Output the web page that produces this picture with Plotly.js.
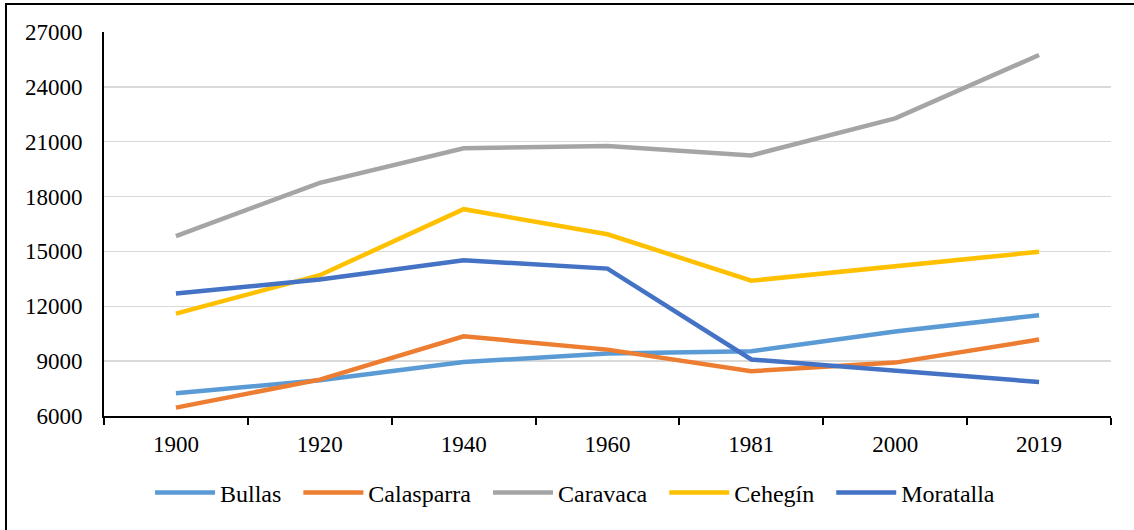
<!DOCTYPE html>
<html>
<head>
<meta charset="utf-8">
<script src="https://cdn.plot.ly/plotly-3.0.1.min.js"></script>
<style>
  html, body { margin: 0; padding: 0; background: #fff; }
  #chart { width: 1134px; height: 530px; }
  #frame { position: absolute; left: 5px; top: 3px; right: 0; bottom: 0;
           border-left: 2px solid #000; border-top: 2px solid #000; pointer-events: none; }
</style>
</head>
<body>
<div id="chart"></div>
<div id="frame"></div>
<script>
const years = ["1900", "1920", "1940", "1960", "1981", "2000", "2019"];
const bullas     = [7250, 7950, 8950, 9420, 9540, 10620, 11510];
const calasparra = [6460, 7990, 10360, 9630, 8450, 8920, 10180];
const caravaca   = [15840, 18750, 20640, 20760, 20250, 22280, 25740];
const cehegin    = [11600, 13700, 17310, 15940, 13400, 14160, 14980];
const moratalla  = [12700, 13460, 14520, 14060, 9090, 8460, 7860];

const names  = ["Bullas", "Calasparra", "Caravaca", "Cehegín", "Moratalla"];
const series = [bullas, calasparra, caravaca, cehegin, moratalla];
const colors = ["#5B9BD5", "#ED7D31", "#A5A5A5", "#FFC000", "#4472C4"];

const fam = "Liberation Serif";
const tickFont = { family: fam, size: 23, color: "#000" };
const legendFont = { family: fam, size: 24, color: "#000" };

const traces = series.map((s, i) => ({
  x: years, y: s, name: names[i] + "\u00a0\u00a0", type: "scatter", mode: "lines",
  line: { color: colors[i], width: 4.5 }
}));

const boundaries = years.map((_, i) => i - 0.5).concat([years.length - 0.5]);

const layout = {
  width: 1134, height: 530,
  margin: { l: 104, r: 23, t: 32, b: 114 },
  paper_bgcolor: "#fff", plot_bgcolor: "#fff",
  font: tickFont,
  showlegend: true,
  legend: { orientation: "h", x: 0.0457, xanchor: "left", y: -0.2, yanchor: "middle",
            font: legendFont, itemwidth: 60, traceorder: "normal" },
  xaxis: {
    type: "category", categoryarray: years, range: [-0.5, 6.5],
    showline: true, linecolor: "#000", linewidth: 2,
    ticks: "outside", ticklen: 7, tickwidth: 2, tickcolor: "#000",
    tickson: "boundaries", showgrid: false, zeroline: false,
    tickfont: tickFont, ticklabelstandoff: 6
  },
  xaxis2: {
    overlaying: "x", anchor: "y", range: [-0.5, 6.5], type: "linear",
    tickmode: "array", tickvals: boundaries, ticks: "inside", ticklen: 7, tickwidth: 2,
    tickcolor: "#000", showticklabels: false, showgrid: false, zeroline: false, showline: false
  },
  yaxis: {
    range: [6000, 27000], tickmode: "linear", tick0: 6000, dtick: 3000,
    tickformat: "d", exponentformat: "none",
    showline: true, linecolor: "#000", linewidth: 2,
    showgrid: true, gridcolor: "#D9D9D9", gridwidth: 1.5,
    ticks: "", zeroline: false, tickfont: tickFont, ticklabelstandoff: 15
  }
};

Plotly.newPlot("chart", traces, layout, { displayModeBar: false, staticPlot: true });
</script>
</body>
</html>
